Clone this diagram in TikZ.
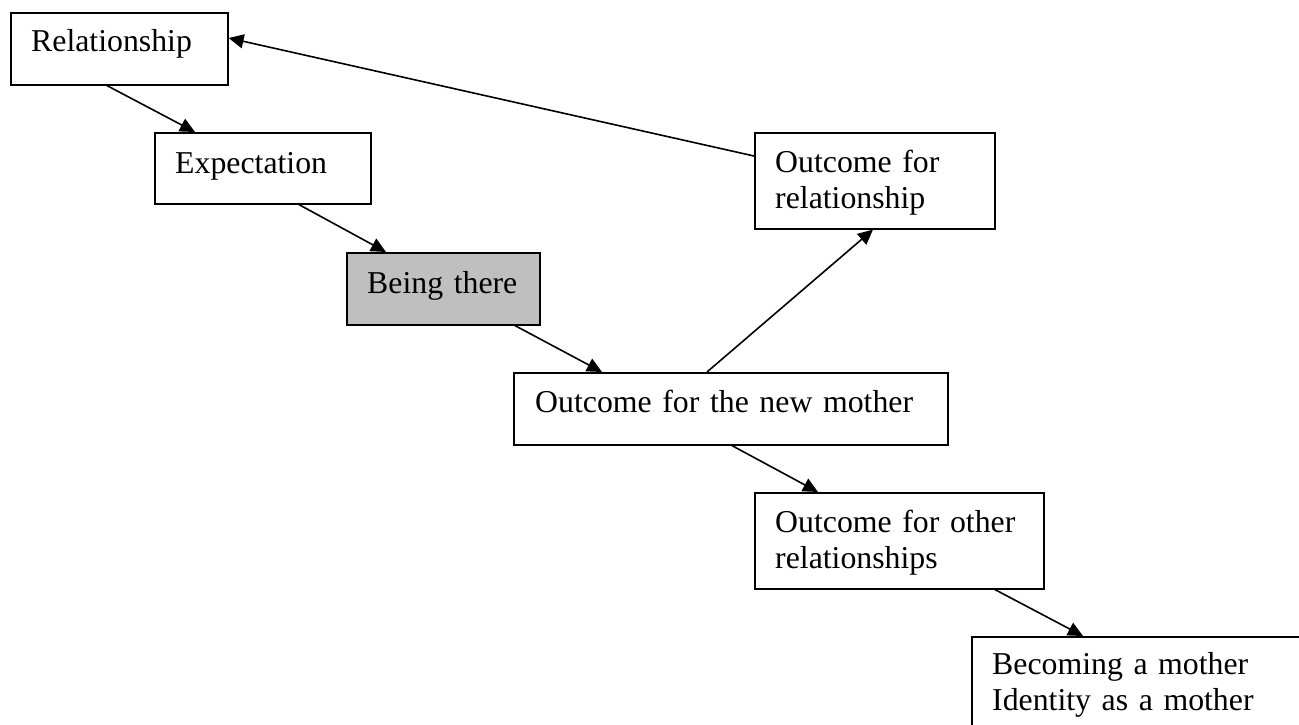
\documentclass[tikz,border=0pt]{standalone}
\usepackage{fontspec}
\setmainfont{Liberation Serif}
\usetikzlibrary{arrows.meta}
\newcommand\boxlabelfont{\fontsize{31.8}{36.7}\selectfont\spaceskip=5.5pt\relax}
\begin{document}
\begin{tikzpicture}[x=1pt,y=-1pt,
  box/.style={draw=black,line width=1.6pt,fill=white,rectangle,inner sep=0pt,anchor=north west},
  shaded/.style={box,fill=black!25},
  lbl/.style={anchor=base west,inner sep=0pt,text width=400pt,align=left,
    font=\boxlabelfont},
  link/.style={line width=1.6pt,-{Triangle[length=15pt,width=14pt]}}]
\useasboundingbox (0,0) rectangle (1299,725);
\clip (0,0) rectangle (1299,725);

% boxes
\node[box,minimum width=217pt,minimum height=72pt] (rel) at (10,12) {};
\node[box,minimum width=216pt,minimum height=71pt] (exp) at (154,132) {};
\node[shaded,minimum width=193pt,minimum height=72pt] (being) at (346,252) {};
\node[box,minimum width=240pt,minimum height=96pt] (outrel) at (754,132) {};
\node[box,minimum width=434pt,minimum height=72pt] (outmom) at (513,372) {};
\node[box,minimum width=289pt,minimum height=96pt] (outoth) at (754,492) {};
\node[box,minimum width=340pt,minimum height=110pt] (become) at (971,636) {};

% labels
\node[lbl] (trel) at ([xshift=21pt,yshift=-40pt]rel.north west) {Relationship};
\node[lbl] (texp) at ([xshift=21pt,yshift=-41pt]exp.north west) {Expectation};
\node[lbl] (tbeing) at ([xshift=21pt,yshift=-41pt]being.north west) {Being there};
\node[lbl] (toutrel) at ([xshift=21pt,yshift=-40pt]outrel.north west) {Outcome for\\relationship};
\node[lbl] (toutmom) at ([xshift=22pt,yshift=-40pt]outmom.north west) {Outcome for the new mother};
\node[lbl] (toutoth) at ([xshift=21pt,yshift=-40pt]outoth.north west) {Outcome for other\\relationships};
\node[lbl] (tbecome) at ([xshift=21pt,yshift=-38pt]become.north west) {Becoming a mother\\Identity as a mother};

% connectors
\draw[link] ([xshift=97pt]rel.south west) -- ([xshift=41pt]exp.north west);
\draw[link] ([xshift=145pt]exp.south west) -- ([xshift=40pt]being.north west);
\draw[link] ([xshift=169pt]being.south west) -- ([xshift=89pt]outmom.north west);
\draw[link] ([xshift=194pt]outmom.north west) -- ([xshift=119pt]outrel.south west);
\draw[link] ([xshift=219pt]outmom.south west) -- ([xshift=64pt]outoth.north west);
\draw[link] ([xshift=241pt]outoth.south west) -- ([xshift=112pt]become.north west);
\draw[link] ([yshift=-24pt]outrel.north west) -- ([yshift=-26pt]rel.north east);
\end{tikzpicture}
\end{document}
